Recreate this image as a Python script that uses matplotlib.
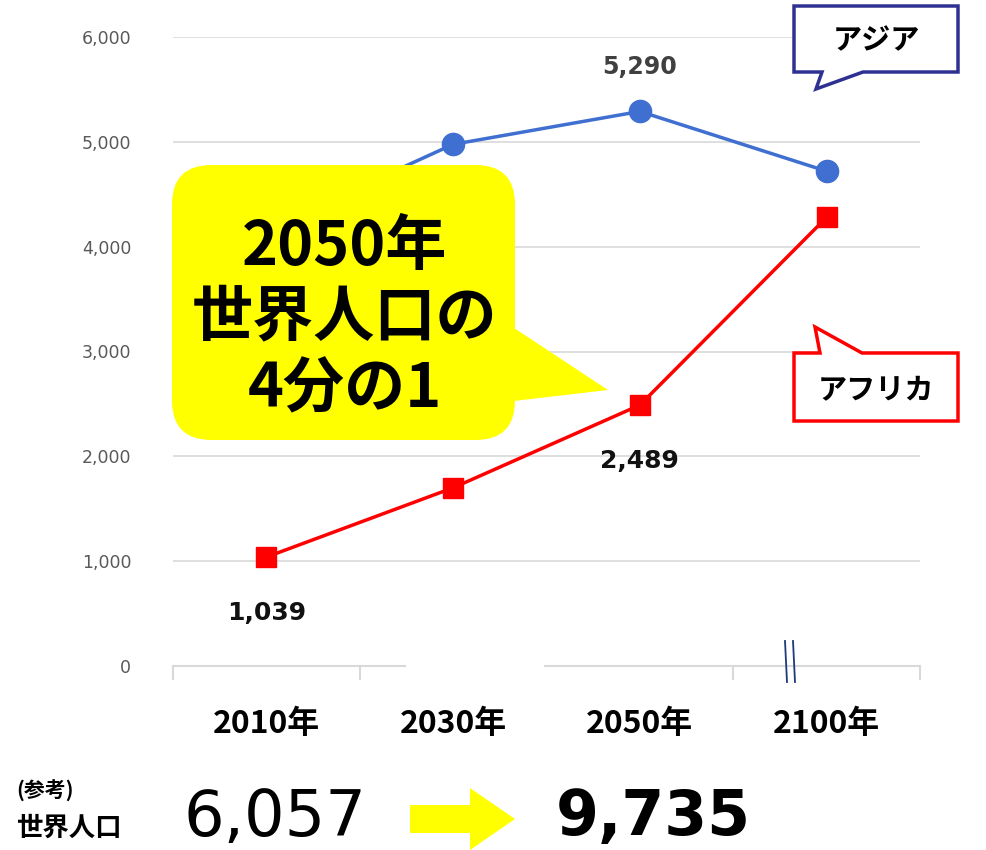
import matplotlib
matplotlib.use("Agg")
import matplotlib.pyplot as plt
from matplotlib.patches import FancyBboxPatch, Polygon
from matplotlib.lines import Line2D

years = ["2010年", "2030年", "2050年", "2100年"]
asia = [4164, 4976, 5290, 4720]
africa = [1039, 1700, 2489, 4280]
labels_asia = {0: "4,164", 2: "5,290"}
labels_africa = {0: "1,039", 2: "2,489"}
yticks = [0, 1000, 2000, 3000, 4000, 5000, 6000]
world = ["6,057", "9,735"]
callout_text = "2050年\n世界人口の\n4分の1"

JP = ["Noto Sans CJK JP", "DejaVu Sans"]
NUM = ["DejaVu Sans"]

W, H = 986, 850
fig = plt.figure(figsize=(W / 100, H / 100), dpi=100)
fig.patch.set_facecolor("white")

def P(x, y):
    return (x / W, 1 - y / H)

ax = fig.add_axes([173 / W, 1 - 666 / H, (920 - 173) / W, (666 - 37) / H])
ax.set_xlim(-0.5, 3.5)
ax.set_ylim(0, 6000)
for s in ax.spines.values():
    s.set_visible(False)
ax.set_yticks(yticks)
ax.set_yticklabels([f"{v:,}" for v in yticks], fontsize=12.5, color="#595959", family=NUM)
ax.tick_params(axis="y", length=0, pad=30)
ax.set_xticks(range(len(years)))
ax.set_xticklabels(years, fontsize=23, fontweight="bold", family=JP)
ax.tick_params(axis="x", length=0, pad=30)
for v in yticks[1:]:
    ax.axhline(v, color="#d9d9d9", lw=1.2, zorder=0)

x = list(range(len(years)))
ax.plot(x, asia, color="#3f6fd0", lw=2.5, marker="o", ms=16, zorder=3)
ax.plot(x, africa, color="#ff0000", lw=2.5, marker="s", ms=15, zorder=3)
for i, t in labels_asia.items():
    off = 35 if i == 0 else 32
    ax.annotate(t, (i, asia[i]), xytext=(0, off), textcoords="offset points", ha="center",
                va="center", fontsize=17, fontweight="bold", color="#404040", family=NUM)
for i, t in labels_africa.items():
    ax.annotate(t, (i, africa[i]), xytext=(0, -40), textcoords="offset points", ha="center",
                va="center", fontsize=18, fontweight="bold", color="#111111", family=NUM)

# baseline with gap and ticks
gc = "#d9d9d9"
for (a, b) in [(173, 405), (545, 920)]:
    fig.add_artist(Line2D([a / W, b / W], [1 - 666 / H] * 2, color=gc, lw=1.5))
for tx in [173, 360, 733, 920]:
    fig.add_artist(Line2D([tx / W] * 2, [1 - 666 / H, 1 - 679 / H], color=gc, lw=1.5))

# break mark
for bx in [785, 793]:
    fig.add_artist(Line2D([bx / W, (bx + 2) / W], [1 - 641 / H, 1 - 682 / H], color="#1f3a7a", lw=1.3))

# yellow callout
fig.add_artist(FancyBboxPatch(P(172, 440), (515 - 172) / W, (440 - 165) / H,
                              boxstyle="round,pad=0,rounding_size=0.04",
                              transform=fig.transFigure, fc="#ffff00", ec="none", zorder=10,
                              mutation_aspect=W / H))
fig.add_artist(Polygon([P(505, 322), P(608, 390), P(505, 402)], closed=True,
                       transform=fig.transFigure, fc="#ffff00", ec="none", zorder=10))
fig.text(*P(345, 318), callout_text, ha="center", va="center", fontsize=44, fontweight="bold",
         family=JP, linespacing=1.2, zorder=11)

# Asia / Africa callouts
asia_poly = [P(794, 6), P(958, 6), P(958, 72), P(863, 72), P(816, 89), P(822, 72), P(794, 72)]
fig.add_artist(Polygon(asia_poly, closed=True, transform=fig.transFigure, fc="white",
                       ec="#2e3192", lw=2.5, zorder=10))
fig.text(*P(876, 40), "アジア", ha="center", va="center", fontsize=21, fontweight="bold",
         family=JP, zorder=11)
afr_poly = [P(794, 353), P(820, 353), P(815, 327), P(862, 353), P(958, 353), P(958, 421), P(794, 421)]
fig.add_artist(Polygon(afr_poly, closed=True, transform=fig.transFigure, fc="white",
                       ec="#ff0000", lw=2.5, zorder=10))
fig.text(*P(876, 389), "アフリカ", ha="center", va="center", fontsize=21, fontweight="bold",
         family=JP, zorder=11)

# bottom reference
fig.text(*P(16, 791), "(参考)", ha="left", va="center", fontsize=15, fontweight="bold", family=JP)
fig.text(*P(16, 828), "世界人口", ha="left", va="center", fontsize=19, fontweight="bold", family=JP)
fig.text(*P(184, 818), world[0], ha="left", va="center", fontsize=46, family=NUM)
fig.text(*P(556, 818), world[1], ha="left", va="center", fontsize=44.5, fontweight="bold", family=NUM)
arrow = [P(410, 805), P(470, 805), P(470, 788), P(515, 819), P(470, 850), P(470, 833), P(410, 833)]
fig.add_artist(Polygon(arrow, closed=True, transform=fig.transFigure, fc="#ffff00", ec="none"))

fig.savefig("out.png", dpi=100)
